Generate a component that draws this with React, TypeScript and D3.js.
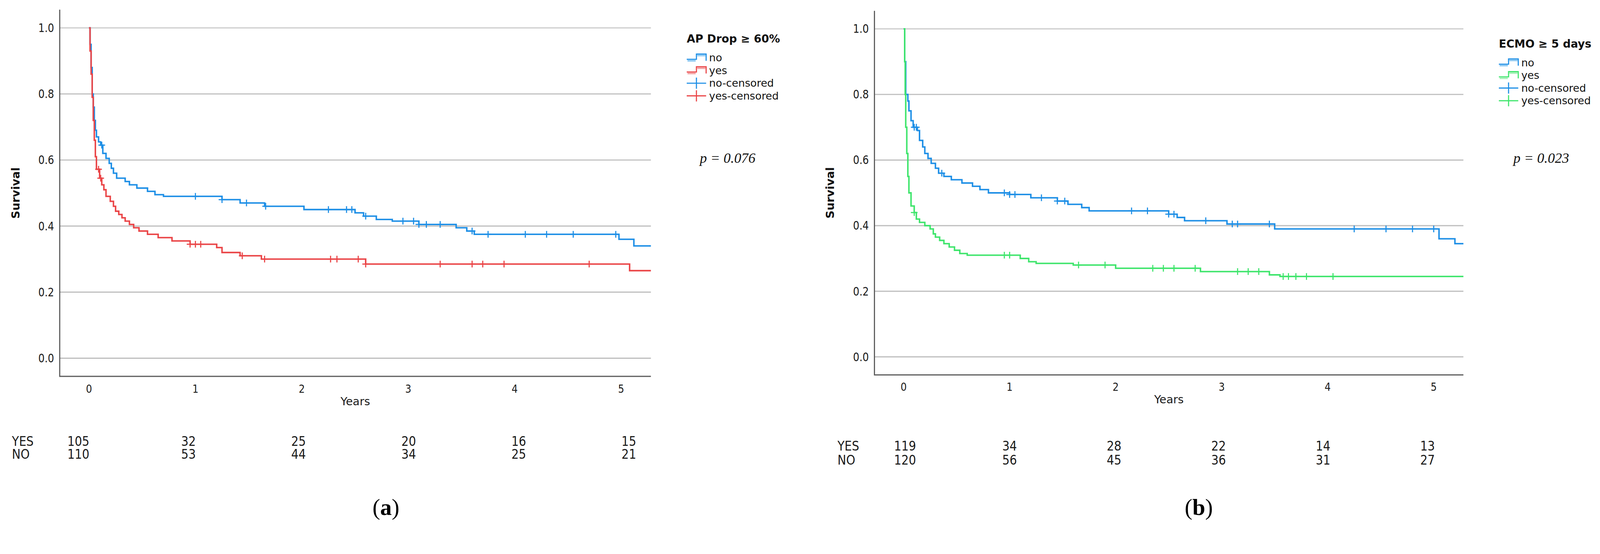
import { useEffect, useRef } from "react";
import * as d3 from "d3";

type Pt = [number, number];

// ---- panel (a): AP Drop >= 60% ----
const apNoCurve: Pt[] = [
	[0, 1.0], [0.01, 0.95], [0.02, 0.88], [0.03, 0.8], [0.04, 0.76], [0.05, 0.72],
	[0.06, 0.69], [0.07, 0.67], [0.09, 0.655], [0.11, 0.645], [0.13, 0.62], [0.16, 0.605],
	[0.19, 0.59], [0.21, 0.575], [0.23, 0.56], [0.26, 0.545], [0.34, 0.535], [0.38, 0.525],
	[0.45, 0.515], [0.55, 0.505], [0.62, 0.495], [0.7, 0.49], [1.25, 0.48], [1.42, 0.47],
	[1.65, 0.46], [2.02, 0.45], [2.5, 0.44], [2.58, 0.43], [2.7, 0.42], [2.85, 0.415],
	[3.1, 0.405], [3.45, 0.395], [3.55, 0.385], [3.62, 0.375], [4.98, 0.36], [5.12, 0.34],
];
const apYesCurve: Pt[] = [
	[0, 1.0], [0.01, 0.93], [0.02, 0.86], [0.03, 0.79], [0.04, 0.72], [0.05, 0.66],
	[0.06, 0.61], [0.07, 0.572], [0.1, 0.545], [0.12, 0.525], [0.14, 0.51], [0.16, 0.49],
	[0.2, 0.475], [0.23, 0.46], [0.25, 0.445], [0.28, 0.435], [0.31, 0.425], [0.34, 0.415],
	[0.38, 0.405], [0.42, 0.395], [0.47, 0.385], [0.55, 0.375], [0.65, 0.365], [0.78, 0.355],
	[0.95, 0.345], [1.2, 0.335], [1.25, 0.32], [1.42, 0.31], [1.62, 0.3], [2.6, 0.285],
	[5.08, 0.265],
];
const apNoCensored = [0.12, 1.0, 1.25, 1.48, 1.66, 2.25, 2.42, 2.47, 2.6, 2.95, 3.05, 3.1, 3.17, 3.3, 3.6, 3.75, 4.1, 4.3, 4.55, 4.95];
const apYesCensored = [0.09, 0.11, 0.95, 1.0, 1.05, 1.44, 1.65, 2.27, 2.33, 2.53, 2.6, 3.3, 3.6, 3.7, 3.9, 4.7];
const apRiskYes = [105, 32, 25, 20, 16, 15];
const apRiskNo = [110, 53, 44, 34, 25, 21];

// ---- panel (b): ECMO >= 5 days ----
const ecmoNoCurve: Pt[] = [
	[0, 1.0], [0.01, 0.9], [0.02, 0.8], [0.04, 0.78], [0.05, 0.75], [0.07, 0.72],
	[0.09, 0.7], [0.13, 0.69], [0.15, 0.66], [0.18, 0.64], [0.2, 0.62], [0.23, 0.605],
	[0.26, 0.59], [0.3, 0.575], [0.33, 0.56], [0.38, 0.55], [0.45, 0.54], [0.55, 0.53],
	[0.65, 0.52], [0.72, 0.51], [0.8, 0.5], [1.0, 0.495], [1.2, 0.485], [1.45, 0.475],
	[1.55, 0.465], [1.68, 0.455], [1.75, 0.445], [2.5, 0.435], [2.58, 0.425], [2.65, 0.415],
	[3.05, 0.405], [3.5, 0.39], [5.05, 0.36], [5.2, 0.345],
];
const ecmoYesCurve: Pt[] = [
	[0, 1.0], [0.01, 0.9], [0.015, 0.8], [0.02, 0.7], [0.03, 0.62], [0.04, 0.55],
	[0.05, 0.5], [0.07, 0.46], [0.1, 0.44], [0.12, 0.42], [0.15, 0.41], [0.2, 0.4],
	[0.25, 0.39], [0.28, 0.375], [0.3, 0.365], [0.34, 0.355], [0.38, 0.345], [0.43, 0.335],
	[0.48, 0.325], [0.53, 0.315], [0.6, 0.31], [1.1, 0.3], [1.18, 0.29], [1.25, 0.285],
	[1.6, 0.28], [2.0, 0.27], [2.8, 0.26], [3.45, 0.25], [3.55, 0.245],
];
const ecmoNoCensored = [0.1, 0.12, 0.36, 0.95, 1.0, 1.05, 1.3, 1.45, 1.52, 2.15, 2.3, 2.5, 2.55, 2.85, 3.1, 3.15, 3.45, 4.25, 4.55, 4.8, 5.0];
const ecmoYesCensored = [0.1, 0.95, 1.0, 1.65, 1.9, 2.35, 2.45, 2.55, 2.75, 3.15, 3.25, 3.35, 3.58, 3.63, 3.7, 3.8, 4.05];
const ecmoRiskYes = [119, 34, 28, 22, 14, 13];
const ecmoRiskNo = [120, 56, 45, 36, 31, 27];

const xTicks = [0, 1, 2, 3, 4, 5];
const yTicks = [0, 0.2, 0.4, 0.6, 0.8, 1.0];
const legendLabels = ["no", "yes", "no-censored", "yes-censored"];
const xDomain: [number, number] = [-0.275, 5.28];
const yDomain: [number, number] = [-0.055, 1.055];

const W = 4287;
const H = 1419;

const BLUE = "#1e8fe6";
const BLUE_LIGHT = "#8cc8f2";
const RED = "#ea4547";
const RED_LIGHT = "#f4a3a4";
const GREEN = "#3fe56c";
const GREEN_LIGHT = "#a6f0b8";

const SANS = "'DejaVu Sans', sans-serif";
const SERIF = "'Liberation Serif', 'Times New Roman', serif";
const NARROW = 0.86;

interface PanelSpec {
	box: { left: number; right: number; top: number; bottom: number };
	title: string;
	titleWidth: number;
	pText: string;
	noCurve: Pt[];
	yesCurve: Pt[];
	noCens: number[];
	yesCens: number[];
	riskYes: number[];
	riskNo: number[];
	yesColor: string;
	yesLight: string;
	legend: { x: number; y: number };
	pPos: { x: number; y: number };
	risk: { labelX: number; yesY: number; noY: number; x0: number; x5: number };
	tickY: number;
	survivalX: number;
	tag: string;
	tagX: number;
}

const panels: PanelSpec[] = [
	{
		box: { left: 160, right: 1744, top: 26, bottom: 1009 },
		title: "AP Drop \u2265 60%",
		titleWidth: 250,
		pText: "0.076",
		noCurve: apNoCurve,
		yesCurve: apYesCurve,
		noCens: apNoCensored,
		yesCens: apYesCensored,
		riskYes: apRiskYes,
		riskNo: apRiskNo,
		yesColor: RED,
		yesLight: RED_LIGHT,
		legend: { x: 1840, y: 104 },
		pPos: { x: 1875, y: 436 },
		risk: { labelX: 32, yesY: 1195, noY: 1230, x0: 210, x5: 1685 },
		tickY: 1053,
		survivalX: 42,
		tag: "a",
		tagX: 1034,
	},
	{
		box: { left: 2343, right: 3921, top: 29, bottom: 1005 },
		title: "ECMO \u2265 5 days",
		titleWidth: 248,
		pText: "0.023",
		noCurve: ecmoNoCurve,
		yesCurve: ecmoYesCurve,
		noCens: ecmoNoCensored,
		yesCens: ecmoYesCensored,
		riskYes: ecmoRiskYes,
		riskNo: ecmoRiskNo,
		yesColor: GREEN,
		yesLight: GREEN_LIGHT,
		legend: { x: 4016, y: 117 },
		pPos: { x: 4055, y: 436 },
		risk: { labelX: 2244, yesY: 1208, noY: 1245, x0: 2425, x5: 3825 },
		tickY: 1048,
		survivalX: 2224,
		tag: "b",
		tagX: 3212,
	},
];

function survAt(curve: Pt[], t: number) {
	const i = d3.bisector((d: Pt) => d[0]).right(curve, t) - 1;
	return curve[Math.max(0, i)][1];
}

type Sel = d3.Selection<SVGGElement, unknown, null, undefined>;

// narrow (condensed-looking) text: DejaVu Sans squeezed horizontally
function narrowText(parent: Sel, x: number, y: number, str: string, size: number, anchor = "start") {
	return parent
		.append("text")
		.attr("transform", `translate(${x},${y}) scale(${NARROW},1)`)
		.attr("text-anchor", anchor)
		.attr("font-family", SANS)
		.attr("font-size", size)
		.attr("fill", "#1a1a1a")
		.text(str);
}

export default function App() {
	const svgRef = useRef<SVGSVGElement>(null);

	useEffect(() => {
		document.body.style.margin = "0";
		document.body.style.overflow = "hidden";
		if (!svgRef.current) return;
		const svg = d3.select(svgRef.current);
		svg.selectAll("*").remove();

		const root = svg.append("g") as unknown as Sel;
		root.append("rect").attr("width", W).attr("height", H).attr("fill", "#ffffff");

		panels.forEach((p) => {
			const { box } = p;
			const x = d3.scaleLinear().domain(xDomain).range([box.left, box.right]);
			const y = d3.scaleLinear().domain(yDomain).range([box.bottom, box.top]);
			const g = root.append("g") as Sel;

			// gridlines
			g.selectAll(".grid")
				.data(yTicks)
				.join("line")
				.attr("x1", box.left)
				.attr("x2", box.right)
				.attr("y1", (d) => y(d))
				.attr("y2", (d) => y(d))
				.attr("stroke", (d) => (d === 1 ? "#d4d4d4" : "#bdbdbd"))
				.attr("stroke-width", (d) => (d === 1 ? 4 : 3));

			// axis lines (left + bottom only)
			g.append("path")
				.attr("d", `M${box.left},${box.top} V${box.bottom} H${box.right}`)
				.attr("fill", "none")
				.attr("stroke", "#595959")
				.attr("stroke-width", 3);

			yTicks.forEach((d) => {
				narrowText(g, box.left - 15, y(d) + 11, d3.format(".1f")(d), 31, "end");
			});
			xTicks.forEach((d) => {
				narrowText(g, x(d), p.tickY, String(d), 30, "middle");
			});

			g.append("text")
				.attr("x", (box.left + box.right) / 2)
				.attr("y", p.tickY + 33)
				.attr("text-anchor", "middle")
				.attr("font-family", SANS)
				.attr("font-size", 30)
				.attr("fill", "#1a1a1a")
				.text("Years");

			g.append("text")
				.attr("transform", `translate(${p.survivalX},${(box.top + box.bottom) / 2}) rotate(-90)`)
				.attr("text-anchor", "middle")
				.attr("dy", "0.35em")
				.attr("font-family", SANS)
				.attr("font-weight", "bold")
				.attr("font-size", 30)
				.attr("fill", "#111")
				.text("Survival");

			// survival curves
			const line = d3
				.line<Pt>()
				.x((d) => x(d[0]))
				.y((d) => y(d[1]))
				.curve(d3.curveStepAfter);

			const series = [
				{ curve: p.noCurve, cens: p.noCens, color: BLUE },
				{ curve: p.yesCurve, cens: p.yesCens, color: p.yesColor },
			];
			series.forEach((s) => {
				const pts: Pt[] = [...s.curve, [xDomain[1], s.curve[s.curve.length - 1][1]]];
				g.append("path")
					.datum(pts)
					.attr("fill", "none")
					.attr("stroke", s.color)
					.attr("stroke-width", 4)
					.attr("d", line);
			});
			series.forEach((s) => {
				const cg = g.append("g").attr("stroke", s.color).attr("stroke-width", 3);
				s.cens.forEach((t) => {
					const cx = x(t);
					const cy = y(survAt(s.curve, t));
					cg.append("line").attr("x1", cx - 9).attr("x2", cx + 9).attr("y1", cy).attr("y2", cy);
					cg.append("line").attr("x1", cx).attr("x2", cx).attr("y1", cy - 9).attr("y2", cy + 9);
				});
			});

			// legend
			const lg = root.append("g").attr("transform", `translate(${p.legend.x},${p.legend.y})`) as Sel;
			lg.append("text")
				.attr("x", 0)
				.attr("y", 0)
				.attr("dy", "0.35em")
				.attr("font-family", SANS)
				.attr("font-weight", "bold")
				.attr("font-size", 30)
				.attr("textLength", p.titleWidth)
				.attr("lengthAdjust", "spacingAndGlyphs")
				.attr("fill", "#111")
				.text(p.title);
			const itemColors = [
				[BLUE, BLUE_LIGHT],
				[p.yesColor, p.yesLight],
				[BLUE, BLUE_LIGHT],
				[p.yesColor, p.yesLight],
			];
			legendLabels.forEach((lab, i) => {
				const iy = 51 + i * 34;
				const [c, cl] = itemColors[i];
				if (i < 2) {
					lg.append("path")
						.attr("d", `M0,${iy + 4} H26 V${iy - 10} H52 V${iy + 8}`)
						.attr("fill", "none")
						.attr("stroke", c)
						.attr("stroke-width", 3);
					lg.append("path")
						.attr("d", `M2,${iy + 8} H24 M28,${iy - 6} H50`)
						.attr("stroke", cl)
						.attr("stroke-width", 4);
				} else {
					lg.append("line").attr("x1", 0).attr("x2", 52).attr("y1", iy).attr("y2", iy)
						.attr("stroke", c).attr("stroke-width", 3);
					lg.append("line").attr("x1", 26).attr("x2", 26).attr("y1", iy - 15).attr("y2", iy + 15)
						.attr("stroke", c).attr("stroke-width", 3);
				}
				lg.append("text")
					.attr("x", 60)
					.attr("y", iy)
					.attr("dy", "0.35em")
					.attr("font-family", SANS)
					.attr("font-size", 28)
					.attr("fill", "#111")
					.text(lab);
			});

			// p value
			root.append("text")
				.attr("x", p.pPos.x)
				.attr("y", p.pPos.y)
				.attr("font-family", SERIF)
				.attr("font-style", "italic")
				.attr("font-size", 38)
				.attr("fill", "#111")
				.text(`p = ${p.pText}`);

			// numbers at risk
			const rx = d3.scaleLinear().domain([0, 5]).range([p.risk.x0, p.risk.x5]);
			const rg = root.append("g") as Sel;
			narrowText(rg, p.risk.labelX, p.risk.yesY, "YES", 36);
			narrowText(rg, p.risk.labelX, p.risk.noY, "NO", 36);
			p.riskYes.forEach((v, i) => narrowText(rg, rx(xTicks[i]), p.risk.yesY, String(v), 36, "middle"));
			p.riskNo.forEach((v, i) => narrowText(rg, rx(xTicks[i]), p.risk.noY, String(v), 36, "middle"));

			// panel tag
			const tg = root.append("text")
				.attr("x", p.tagX)
				.attr("y", 1380)
				.attr("text-anchor", "middle")
				.attr("font-family", SERIF)
				.attr("font-size", 62)
				.attr("fill", "#000");
			tg.append("tspan").text("(");
			tg.append("tspan").attr("font-weight", "bold").text(p.tag);
			tg.append("tspan").text(")");
		});
	}, []);

	return (
		<svg
			ref={svgRef}
			viewBox={`0 0 ${W} ${H}`}
			preserveAspectRatio="xMinYMin meet"
			style={{ display: "block", position: "absolute", left: 0, top: 0, width: "100vw", height: "100vh" }}
		/>
	);
}
